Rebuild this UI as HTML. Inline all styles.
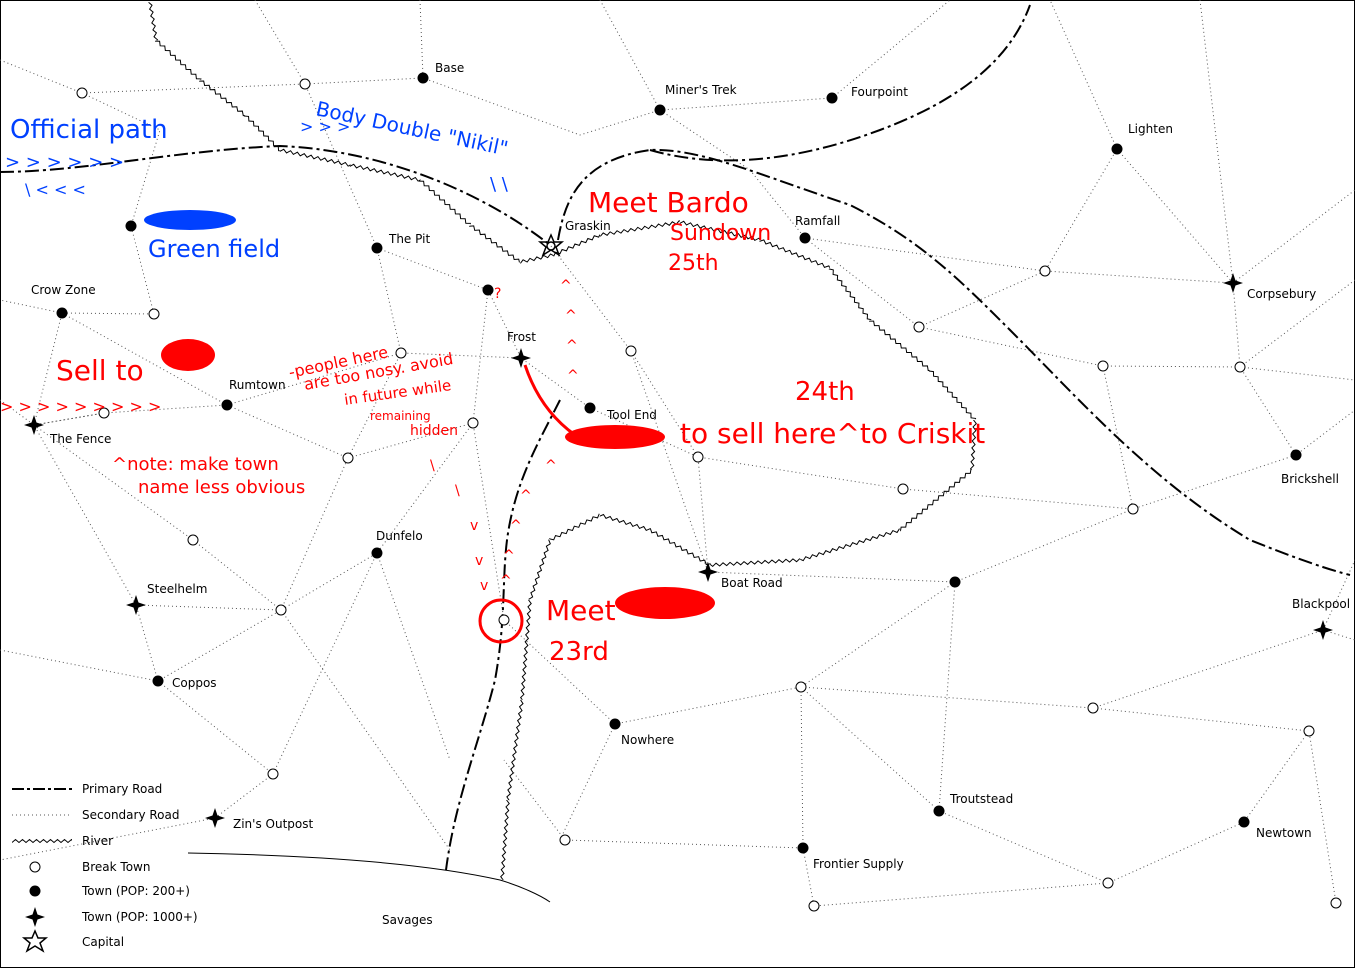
<!DOCTYPE html>
<html><head><meta charset="utf-8">
<style>
html,body{margin:0;padding:0;background:#fff;}
svg{display:block;}
text{font-family:"DejaVu Sans","Liberation Sans",sans-serif;}
.lab{font-size:12px;fill:#000;}
.hr{font-family:"DejaVu Sans",sans-serif;fill:#f00;}
.hb{font-family:"DejaVu Sans",sans-serif;fill:#0040ff;}
</style></head>
<body>
<svg width="1355" height="968" viewBox="0 0 1355 968" xmlns="http://www.w3.org/2000/svg" xmlns:xlink="http://www.w3.org/1999/xlink">
<defs>
<path id="z" fill="none" stroke="#000" stroke-width="1" d="M0,1.5 l3.5,-3 3.5,3 3.5,-3 3.5,3 3.5,-3 3.5,3 3.5,-3 3.5,3 3.5,-3 3.5,3 3.5,-3 3.5,3 3.5,-3 3.5,3 3.5,-3 3.5,3 3.5,-3 3.5,3 3.5,-3 3.5,3 3.5,-3 3.5,3 3.5,-3 3.5,3 3.5,-3 3.5,3 3.5,-3 3.5,3 3.5,-3 3.5,3 3.5,-3 3.5,3 3.5,-3 3.5,3 3.5,-3 3.5,3 3.5,-3 3.5,3 3.5,-3 3.5,3 3.5,-3 3.5,3 3.5,-3 3.5,3 3.5,-3 3.5,3 3.5,-3 3.5,3 3.5,-3 3.5,3"/>
<path id="st" fill="#000" d="M0,-10 L2.5,-2.5 L10,0 L2.5,2.5 L0,10 L-2.5,2.5 L-10,0 L-2.5,-2.5Z"/>
</defs>
<rect x="0.5" y="0.5" width="1354" height="967" fill="#fff" stroke="#000"/>
<g stroke="#555" stroke-width="1" stroke-dasharray="1,3" fill="none">
<path d="M0,60 L82,93 L160,130 L131,226 L154,314 L62,313 L34,425 L104,413 L227,405 L348,458 L473,423 L504,620"/>
<path d="M82,93 L305,84 L423,78 L580,135 L660,110 L832,98 L950,0"/>
<path d="M255,0 L305,84 L377,248 L401,353 L348,458 L281,610 L193,540 L34,425"/>
<path d="M420,0 L423,78 M600,0 L660,110 M660,110 L750,170 L805,238 L919,327 L1045,271 L1117,149 L1050,0"/>
<path d="M1117,149 L1233,283 L1240,367 L1296,455 L1355,410 M1233,283 L1355,190 M1200,0 L1233,283"/>
<path d="M805,238 L1045,271 L1233,283 M919,327 L1103,366 L1240,367 M1103,366 L1133,509 L1296,455"/>
<path d="M551,246 L631,351 L698,457 L903,489 L1133,509 L955,582 L708,572 L698,457"/>
<path d="M955,582 L801,687 L615,724 L504,620 M801,687 L1093,708 L1323,630 L1355,560 M1093,708 L1309,731"/>
<path d="M801,687 L939,811 L1108,883 L1244,822 L1309,731 L1336,903 M1108,883 L814,906 L803,848 L565,840 L504,760"/>
<path d="M939,811 L955,582 M803,848 L801,687 M615,724 L560,840 M1323,630 L1355,640"/>
<path d="M0,650 L158,681 L281,610 L377,553 L473,423 M158,681 L273,774 L215,818 L0,860 M273,774 L377,553"/>
<path d="M136,605 L281,610 M136,605 L34,425 M158,681 L136,605 M281,610 L450,850 M377,553 L450,760"/>
<path d="M377,248 L488,290 L521,358 L590,408 M488,290 L473,423 M62,313 L0,300 M62,313 L227,405 M227,405 L401,353 L521,358"/>
<path d="M0,400 L34,425 L104,413 M590,408 L698,457 M631,351 L708,572 M1355,280 L1240,367 M1240,367 L1355,380"/>
</g>
<g stroke="#000" stroke-width="2" stroke-dasharray="14,4,3,4" fill="none">
<path d="M0,172 C80,172 180,150 280,146 C380,150 480,190 550,245"/>
<path d="M558,240 C565,200 580,160 650,150 C700,148 760,175 850,205 C920,240 960,280 1010,330 C1080,400 1150,480 1250,540 C1300,560 1330,570 1350,575"/>
<path d="M650,150 C720,170 800,160 880,130 C960,100 1010,60 1030,5"/>
<path d="M560,400 C540,440 515,480 507,540 C502,580 506,620 495,680 C480,740 455,800 446,870"/>
</g>
<path d="M188,853 C300,855 420,862 500,880 C520,886 540,895 550,902" stroke="#000" fill="none"/>

<!-- rivers -->
<g transform="translate(150,2) rotate(81)"><svg y="-5" width="39" height="10"><use href="#z" xlink:href="#z" y="5"/></svg></g>
<g transform="translate(156,40) rotate(42.3)"><svg y="-5" width="60" height="10"><use href="#z" xlink:href="#z" y="5"/></svg></g>
<g transform="translate(200,80) rotate(37.9)"><svg y="-5" width="57" height="10"><use href="#z" xlink:href="#z" y="5"/></svg></g>
<g transform="translate(245,115) rotate(45)"><svg y="-5" width="50" height="10"><use href="#z" xlink:href="#z" y="5"/></svg></g>
<g transform="translate(280,150) rotate(12.1)"><svg y="-5" width="72" height="10"><use href="#z" xlink:href="#z" y="5"/></svg></g>
<g transform="translate(350,165) rotate(12.1)"><svg y="-5" width="72" height="10"><use href="#z" xlink:href="#z" y="5"/></svg></g>
<g transform="translate(420,180) rotate(42)"><svg y="-5" width="67" height="10"><use href="#z" xlink:href="#z" y="5"/></svg></g>
<g transform="translate(470,225) rotate(36.5)"><svg y="-5" width="62" height="10"><use href="#z" xlink:href="#z" y="5"/></svg></g>
<g transform="translate(520,262) rotate(-12)"><svg y="-5" width="34" height="10"><use href="#z" xlink:href="#z" y="5"/></svg></g>
<g transform="translate(553,255) rotate(-23.1)"><svg y="-5" width="51" height="10"><use href="#z" xlink:href="#z" y="5"/></svg></g>
<g transform="translate(600,235) rotate(-9.2)"><svg y="-5" width="81" height="10"><use href="#z" xlink:href="#z" y="5"/></svg></g>
<g transform="translate(680,222) rotate(12.7)"><svg y="-5" width="82" height="10"><use href="#z" xlink:href="#z" y="5"/></svg></g>
<g transform="translate(760,240) rotate(21.8)"><svg y="-5" width="75" height="10"><use href="#z" xlink:href="#z" y="5"/></svg></g>
<g transform="translate(830,268) rotate(52.4)"><svg y="-5" width="66" height="10"><use href="#z" xlink:href="#z" y="5"/></svg></g>
<g transform="translate(870,320) rotate(39.8)"><svg y="-5" width="78" height="10"><use href="#z" xlink:href="#z" y="5"/></svg></g>
<g transform="translate(930,370) rotate(48)"><svg y="-5" width="67" height="10"><use href="#z" xlink:href="#z" y="5"/></svg></g>
<g transform="translate(975,420) rotate(93.4)"><svg y="-5" width="50" height="10"><use href="#z" xlink:href="#z" y="5"/></svg></g>
<g transform="translate(972,470) rotate(140.2)"><svg y="-5" width="94" height="10"><use href="#z" xlink:href="#z" y="5"/></svg></g>
<g transform="translate(900,530) rotate(163.3)"><svg y="-5" width="104" height="10"><use href="#z" xlink:href="#z" y="5"/></svg></g>
<g transform="translate(800,560) rotate(176.8)"><svg y="-5" width="90" height="10"><use href="#z" xlink:href="#z" y="5"/></svg></g>
<g transform="translate(710,565) rotate(210.3)"><svg y="-5" width="70" height="10"><use href="#z" xlink:href="#z" y="5"/></svg></g>
<g transform="translate(650,530) rotate(196.7)"><svg y="-5" width="52" height="10"><use href="#z" xlink:href="#z" y="5"/></svg></g>
<g transform="translate(600,515) rotate(153.4)"><svg y="-5" width="56" height="10"><use href="#z" xlink:href="#z" y="5"/></svg></g>
<g transform="translate(550,540) rotate(108.4)"><svg y="-5" width="63" height="10"><use href="#z" xlink:href="#z" y="5"/></svg></g>
<g transform="translate(530,600) rotate(94.6)"><svg y="-5" width="100" height="10"><use href="#z" xlink:href="#z" y="5"/></svg></g>
<g transform="translate(522,700) rotate(98)"><svg y="-5" width="101" height="10"><use href="#z" xlink:href="#z" y="5"/></svg></g>
<g transform="translate(508,800) rotate(94.3)"><svg y="-5" width="80" height="10"><use href="#z" xlink:href="#z" y="5"/></svg></g>
<g transform="translate(12,841)"><svg y="-5" width="60" height="10"><use href="#z" xlink:href="#z" y="5"/></svg></g>

<g fill="#fff" stroke="#000" stroke-width="1">
<circle cx="82" cy="93" r="5"/><circle cx="305" cy="84" r="5"/><circle cx="154" cy="314" r="5"/><circle cx="401" cy="353" r="5"/><circle cx="104" cy="413" r="5"/><circle cx="473" cy="423" r="5"/><circle cx="348" cy="458" r="5"/><circle cx="193" cy="540" r="5"/><circle cx="281" cy="610" r="5"/><circle cx="273" cy="774" r="5"/><circle cx="631" cy="351" r="5"/><circle cx="698" cy="457" r="5"/><circle cx="919" cy="327" r="5"/><circle cx="1045" cy="271" r="5"/><circle cx="1103" cy="366" r="5"/><circle cx="1240" cy="367" r="5"/><circle cx="903" cy="489" r="5"/><circle cx="1133" cy="509" r="5"/><circle cx="801" cy="687" r="5"/><circle cx="1093" cy="708" r="5"/><circle cx="1309" cy="731" r="5"/><circle cx="565" cy="840" r="5"/><circle cx="1108" cy="883" r="5"/><circle cx="814" cy="906" r="5"/><circle cx="1336" cy="903" r="5"/><circle cx="504" cy="620" r="5"/>
<circle cx="35" cy="867" r="5"/>
</g>
<g fill="#000">
<circle cx="423" cy="78" r="5.5"/><circle cx="660" cy="110" r="5.5"/><circle cx="832" cy="98" r="5.5"/><circle cx="1117" cy="149" r="5.5"/><circle cx="805" cy="238" r="5.5"/><circle cx="377" cy="248" r="5.5"/><circle cx="131" cy="226" r="5.5"/><circle cx="62" cy="313" r="5.5"/><circle cx="488" cy="290" r="5.5"/><circle cx="227" cy="405" r="5.5"/><circle cx="590" cy="408" r="5.5"/><circle cx="377" cy="553" r="5.5"/><circle cx="158" cy="681" r="5.5"/><circle cx="615" cy="724" r="5.5"/><circle cx="955" cy="582" r="5.5"/><circle cx="1296" cy="455" r="5.5"/><circle cx="939" cy="811" r="5.5"/><circle cx="803" cy="848" r="5.5"/><circle cx="1244" cy="822" r="5.5"/><circle cx="35" cy="891" r="5.5"/>
</g>
<use href="#st" xlink:href="#st" x="34" y="425"/>
<use href="#st" xlink:href="#st" x="521" y="358"/>
<use href="#st" xlink:href="#st" x="136" y="605"/>
<use href="#st" xlink:href="#st" x="708" y="572"/>
<use href="#st" xlink:href="#st" x="1233" y="283"/>
<use href="#st" xlink:href="#st" x="1323" y="630"/>
<use href="#st" xlink:href="#st" x="215" y="818"/>
<use href="#st" xlink:href="#st" x="35" y="917"/>
<g fill="none" stroke="#000" stroke-width="1.5" transform="translate(551,246)">
<path d="M0,-11 L3,-4 L11,-4 L5,1 L8,9 L0,4 L-8,9 L-5,1 L-11,-4 L-3,-4 Z"/>
<circle r="4"/>
</g>
<g fill="none" stroke="#000" stroke-width="1.5" transform="translate(35,942)">
<path d="M0,-11 L3,-4 L11,-4 L5,1 L8,9 L0,4 L-8,9 L-5,1 L-11,-4 L-3,-4 Z"/>
</g>

<g class="lab">
<text x="435" y="72">Base</text><text x="665" y="94">Miner's Trek</text><text x="851" y="96">Fourpoint</text><text x="1128" y="133">Lighten</text><text x="795" y="225">Ramfall</text><text x="565" y="230">Graskin</text><text x="389" y="243">The Pit</text><text x="31" y="294">Crow Zone</text><text x="507" y="341">Frost</text><text x="229" y="389">Rumtown</text><text x="607" y="419">Tool End</text><text x="50" y="443">The Fence</text><text x="376" y="540">Dunfelo</text><text x="147" y="593">Steelhelm</text><text x="721" y="587">Boat Road</text><text x="172" y="687">Coppos</text><text x="621" y="744">Nowhere</text><text x="1247" y="298">Corpsebury</text><text x="1281" y="483">Brickshell</text><text x="1292" y="608">Blackpool</text><text x="950" y="803">Troutstead</text><text x="1256" y="837">Newtown</text><text x="813" y="868">Frontier Supply</text><text x="233" y="828">Zin's Outpost</text><text x="382" y="924">Savages</text>
<text x="82" y="793">Primary Road</text><text x="82" y="819">Secondary Road</text><text x="82" y="845">River</text><text x="82" y="871">Break Town</text><text x="82" y="895">Town (POP: 200+)</text><text x="82" y="921">Town (POP: 1000+)</text><text x="82" y="946">Capital</text>
</g>
<path d="M12,789 L72,789" stroke="#000" stroke-width="2" stroke-dasharray="12,3,3,3"/>
<path d="M12,815 L72,815" stroke="#555" stroke-dasharray="1,3"/>

<!-- annotations -->
<g fill="#f00">
<ellipse cx="188" cy="355" rx="27" ry="16"/>
<ellipse cx="615" cy="437" rx="50" ry="12"/>
<ellipse cx="665" cy="603" rx="50" ry="16"/>
</g>
<ellipse cx="190" cy="220" rx="46" ry="10" fill="#0040ff"/>
<path d="M525,365 Q540,410 575,435" stroke="#f00" stroke-width="3" fill="none"/>
<circle cx="501" cy="621" r="21" stroke="#f00" stroke-width="3" fill="none"/>
<g class="hb">
<text x="10" y="138" font-size="26">Official path</text>
<text x="315" y="115" font-size="20" transform="rotate(12 315 115)">Body Double "Nikil"</text>
<text x="148" y="257" font-size="24">Green field</text>
<text x="5" y="168" font-size="18">&gt; &gt; &gt;  &gt;       &gt;       &gt;</text>
<text x="25" y="195" font-size="16">\ &lt; &lt; &lt;</text>
<text x="300" y="132" font-size="16">&gt;           &gt;        &gt;</text>
<text x="490" y="190" font-size="18">\       \</text>
</g>
<g class="hr">
<text x="588" y="212" font-size="28">Meet Bardo</text>
<text x="670" y="240" font-size="22">Sundown</text>
<text x="668" y="270" font-size="22">25th</text>
<text x="56" y="380" font-size="28">Sell to</text>
<text x="795" y="400" font-size="26">24th</text>
<text x="680" y="443" font-size="28">to sell here^to Criskit</text>
<text x="546" y="620" font-size="28">Meet</text>
<text x="549" y="660" font-size="26">23rd</text>
<text x="290" y="378" font-size="16" transform="rotate(-12 290 378)">-people here</text>
<text x="305" y="390" font-size="16" transform="rotate(-10 305 390)">are too nosy. avoid</text>
<text x="345" y="405" font-size="15" transform="rotate(-8 345 405)">in future while</text>
<text x="370" y="420" font-size="12">remaining</text>
<text x="410" y="435" font-size="14">hidden</text>
<text x="112" y="470" font-size="18">^note: make town</text>
<text x="138" y="493" font-size="18">name less obvious</text>
<text x="0" y="412" font-size="16">&gt; &gt; &gt;  &gt;     &gt;   &gt;   &gt;   &gt;  &gt;</text>
<text x="560" y="290" font-size="14">^</text><text x="565" y="320" font-size="14">^</text><text x="566" y="350" font-size="14">^</text><text x="567" y="380" font-size="14">^</text><text x="545" y="470" font-size="14">^</text><text x="520" y="500" font-size="14">^</text><text x="510" y="530" font-size="14">^</text><text x="503" y="560" font-size="14">^</text><text x="500" y="585" font-size="14">^</text>
<text x="430" y="470" font-size="14">\</text><text x="455" y="495" font-size="14">\</text><text x="470" y="530" font-size="14">v</text><text x="475" y="565" font-size="14">v</text><text x="480" y="590" font-size="14">v</text>
<text x="494" y="298" font-size="14">?</text>
</g>
</svg>
</body></html>
